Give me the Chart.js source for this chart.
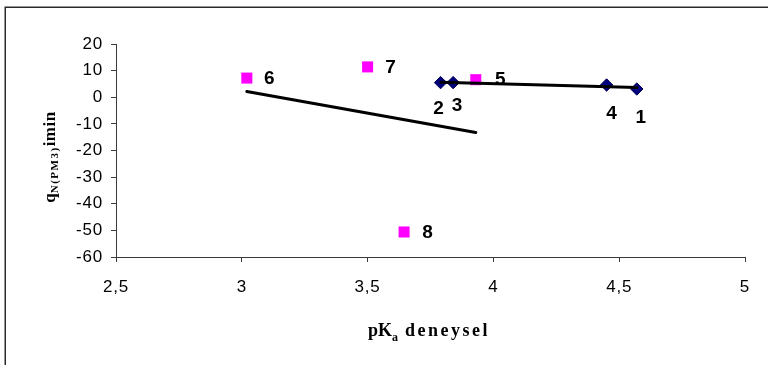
<!DOCTYPE html>
<html>
<head>
<meta charset="utf-8">
<script src="https://cdn.jsdelivr.net/npm/chart.js@4/dist/chart.umd.min.js"></script>
<style>
  html, body { margin: 0; padding: 0; background: #fff; }
  canvas { display: block; }
</style>
</head>
<body>
<canvas id="c" width="768" height="365"></canvas>
<script>
// Compounds 5–8 (pink squares)
const pinkX = [3.02, 3.50, 3.93, 3.645];
const pinkY = [7.2, 11.4, 6.6, -50.6];
const pinkIds = ['6', '7', '5', '8'];

// Compounds 1–4 (navy diamonds)
const navyX = [4.57, 3.79, 3.84, 4.45];
const navyY = [3.1, 5.5, 5.5, 4.6];
const navyIds = ['1', '2', '3', '4'];

// Axis ticks
const xTicks = [2.5, 3, 3.5, 4, 4.5, 5];
const xTickLabels = ['2,5', '3', '3,5', '4', '4,5', '5'];
const yTicks = [20, 10, 0, -10, -20, -30, -40, -50, -60];

// Where each number label sits relative to its marker (pixels)
const pinkLabelOffsets = [[22.5, 1], [23, 0.5], [24.5, 0], [23.5, 1]];
const navyLabelOffsets = [[4, 29], [-2, 26], [4, 23], [5, 29]];

function points(xs, ys) { return xs.map((x, i) => ({ x: x, y: ys[i] })); }

// Least-squares line drawn over the x range of a series
function trend(xs, ys) {
  const n = xs.length;
  const mx = xs.reduce((a, b) => a + b, 0) / n;
  const my = ys.reduce((a, b) => a + b, 0) / n;
  let sxy = 0, sxx = 0;
  for (let i = 0; i < n; i++) { sxy += (xs[i] - mx) * (ys[i] - my); sxx += (xs[i] - mx) * (xs[i] - mx); }
  const b = sxy / sxx, a = my - b * mx;
  const lo = Math.min(...xs), hi = Math.max(...xs);
  return [{ x: lo, y: a + b * lo }, { x: hi, y: a + b * hi }];
}

const AXIS = '#3a3a3a';
const tickFont = { family: "'Liberation Sans', Arial, sans-serif", size: 17 };

const frame = {
  id: 'frame',
  beforeDraw(chart) {
    const ctx = chart.ctx;
    ctx.save();
    ctx.fillStyle = '#fff';
    ctx.fillRect(0, 0, chart.width, chart.height);
    ctx.strokeStyle = '#2a2a2a';
    ctx.lineWidth = 1.5;
    ctx.strokeRect(5.25, 7.25, chart.width + 20, chart.height + 20);
    ctx.restore();
    // slightly looser spacing for the tick numbers
    ctx.letterSpacing = '0.8px';
  },
  afterDraw(chart) {
    chart.ctx.letterSpacing = '0px';
  }
};

const numberLabels = {
  id: 'numberLabels',
  afterDatasetsDraw(chart) {
    const ctx = chart.ctx;
    ctx.save();
    ctx.letterSpacing = '0px';
    ctx.font = "bold 19px 'Liberation Sans', Arial, sans-serif";
    ctx.fillStyle = '#000';
    ctx.textAlign = 'center';
    ctx.textBaseline = 'middle';
    const sets = [[2, pinkIds, pinkLabelOffsets], [3, navyIds, navyLabelOffsets]];
    sets.forEach(([di, ids, offs]) => {
      const meta = chart.getDatasetMeta(di);
      meta.data.forEach((pt, i) => {
        ctx.fillText(ids[i], pt.x + offs[i][0], pt.y + offs[i][1]);
      });
    });
    ctx.restore();
  }
};

const axisTitles = {
  id: 'axisTitles',
  afterDraw(chart) {
    const ctx = chart.ctx;
    const big = "bold 18px 'Liberation Serif', 'Times New Roman', serif";
    const small = "bold 12px 'Liberation Serif', 'Times New Roman', serif";
    ctx.save();
    ctx.fillStyle = '#000';
    ctx.textBaseline = 'alphabetic';
    ctx.textAlign = 'left';

    // x title: pK_a deneysel
    const xParts = [
      { t: 'pK', f: big, dy: 0, ls: '0px' },
      { t: 'a', f: small, dy: 5, ls: '0px' },
      { t: ' deneysel', f: big, dy: 0, ls: '2.5px' }
    ];
    let w = 0;
    xParts.forEach(p => { ctx.font = p.f; ctx.letterSpacing = p.ls; p.w = ctx.measureText(p.t).width; w += p.w; });
    let x = 429 - w / 2;
    xParts.forEach(p => { ctx.font = p.f; ctx.letterSpacing = p.ls; ctx.fillText(p.t, x, 336 + p.dy); x += p.w; });

    // y title: q_N(PM3) imin, rotated
    const yBig = "bold 17px 'Liberation Serif', 'Times New Roman', serif";
    const ySmall = "bold 11px 'Liberation Serif', 'Times New Roman', serif";
    const yParts = [
      { t: 'q', f: yBig, dy: 0, ls: '0px' },
      { t: 'N(PM3)', f: ySmall, dy: 3, ls: '1.5px' },
      { t: 'imin', f: yBig, dy: 0, ls: '0.5px' }
    ];
    ctx.translate(55, 157);
    ctx.rotate(-Math.PI / 2);
    w = 0;
    yParts.forEach(p => { ctx.font = p.f; ctx.letterSpacing = p.ls; p.w = ctx.measureText(p.t).width; w += p.w; });
    x = -w / 2;
    yParts.forEach(p => { ctx.font = p.f; ctx.letterSpacing = p.ls; ctx.fillText(p.t, x, p.dy); x += p.w; });
    ctx.restore();
  }
};

new Chart(document.getElementById('c'), {
  type: 'scatter',
  data: {
    datasets: [
      {
        type: 'line', data: trend(pinkX, pinkY), borderColor: '#000', borderWidth: 3,
        pointRadius: 0, fill: false, order: 0, borderCapStyle: 'round'
      },
      {
        type: 'line', data: trend(navyX, navyY), borderColor: '#000', borderWidth: 3,
        pointRadius: 0, fill: false, order: 0, borderCapStyle: 'round'
      },
      {
        data: points(pinkX, pinkY), pointStyle: 'rect', pointRadius: 7.8,
        backgroundColor: '#ff00ff', borderColor: '#ff00ff', borderWidth: 0, order: 1
      },
      {
        data: points(navyX, navyY), pointStyle: 'rectRot', pointRadius: 6.2,
        backgroundColor: '#000080', borderColor: '#000050', borderWidth: 1, order: 1
      }
    ]
  },
  options: {
    responsive: false,
    animation: false,
    devicePixelRatio: 1,
    layout: { padding: { top: 44, right: 23, left: 0, bottom: 0 } },
    plugins: { legend: { display: false }, tooltip: { enabled: false } },
    scales: {
      x: {
        type: 'linear', min: 2.5, max: 5,
        afterBuildTicks: s => { s.ticks = xTicks.map(v => ({ value: v })); },
        ticks: {
          font: tickFont, color: '#000', padding: 15, maxRotation: 0,
          callback: (v, i) => xTickLabels[i]
        },
        grid: { drawOnChartArea: false, tickLength: 5, color: AXIS },
        border: { color: AXIS, width: 1 },
        afterFit: s => { s.height = 108; }
      },
      y: {
        type: 'linear', min: -60, max: 20,
        afterBuildTicks: s => { s.ticks = yTicks.map(v => ({ value: v })); },
        ticks: { font: tickFont, color: '#000', padding: 8, callback: v => String(v) },
        grid: { drawOnChartArea: false, tickLength: 5, color: AXIS },
        border: { color: AXIS, width: 1 },
        afterFit: s => { s.width = 116; }
      }
    }
  },
  plugins: [frame, numberLabels, axisTitles]
});
</script>
</body>
</html>
